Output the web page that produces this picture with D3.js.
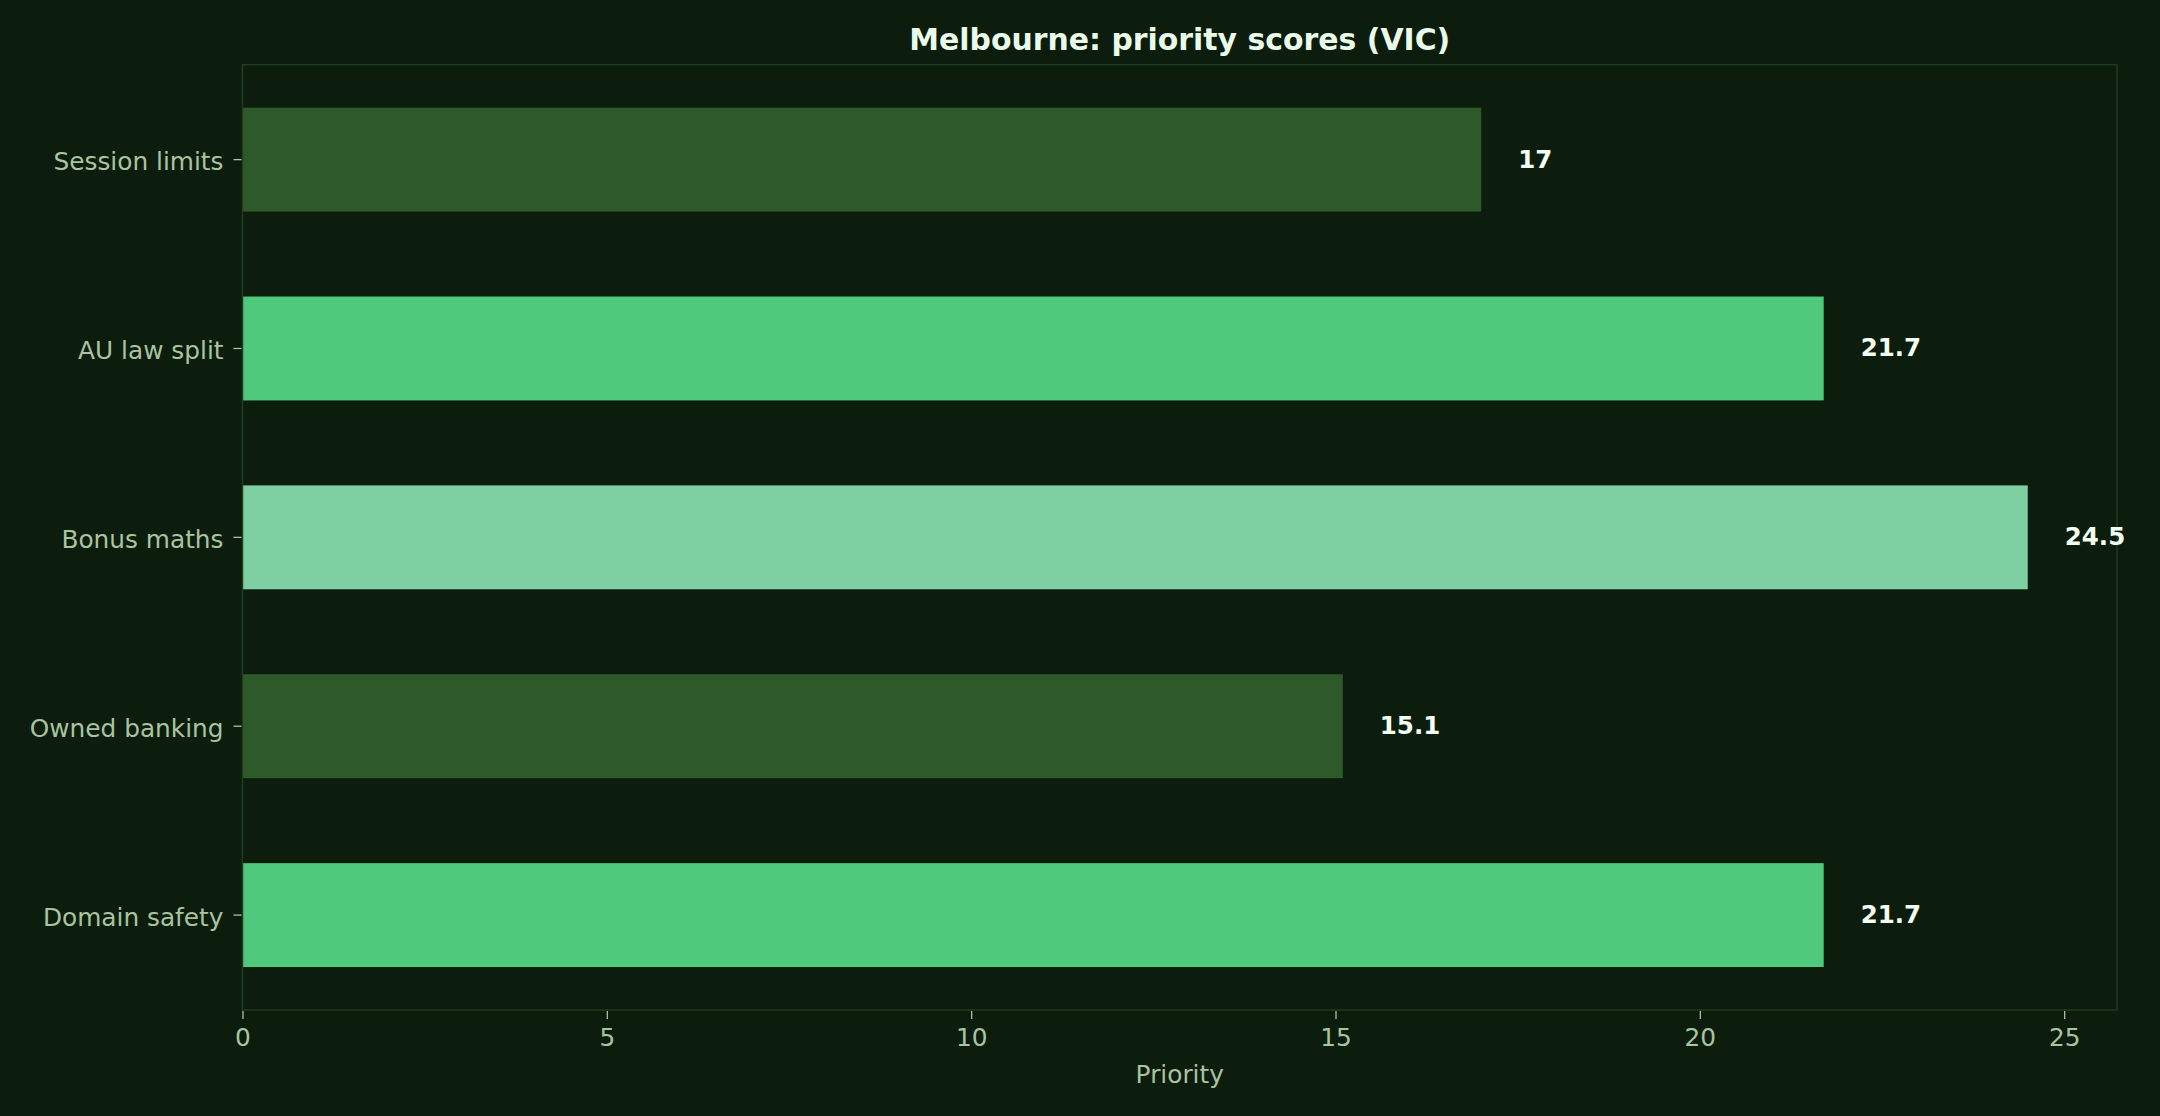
<!DOCTYPE html>
<html>
<head>
<meta charset="utf-8">
<script src="https://cdn.jsdelivr.net/npm/d3@7"></script>
<style>
  html, body { margin: 0; padding: 0; background: #0c1d0d; }
  svg { display: block; }
  text { font-family: "DejaVu Sans", sans-serif; }
</style>
</head>
<body>
<svg id="chart" width="2160" height="1116"></svg>
<script>
const categories = ["Session limits", "AU law split", "Bonus maths", "Owned banking", "Domain safety"];
const values = [17, 21.7, 24.5, 15.1, 21.7];
const barColors = ["#2e5a2a", "#4fc97b", "#7ed0a2", "#2e5a2a", "#4fc97b"];
const xTicks = [0, 5, 10, 15, 20, 25];
const title = "Melbourne: priority scores (VIC)";
const xLabel = "Priority";

(function () {
const W = 2160, H = 1116;
const pl = 242.5, pr = 2117, pt = 64.7, pb = 1010;

const svg = d3.select("#chart");
svg.append("rect").attr("width", W).attr("height", H).attr("fill", "#0c1d0d");

const xMax = d3.max(values) * 1.05;
const x = d3.scaleLinear().domain([0, xMax]).range([pl, pr]);
const y = d3.scaleBand().domain(categories).range([pt, pb])
  .paddingInner(0.45).paddingOuter(0.2275);

// bars
svg.append("g").selectAll("rect").data(categories).join("rect")
  .attr("x", x(0))
  .attr("y", d => y(d))
  .attr("width", (d, i) => x(values[i]) - x(0))
  .attr("height", y.bandwidth())
  .attr("fill", (d, i) => barColors[i]);

// spines
svg.append("rect")
  .attr("x", pl).attr("y", pt)
  .attr("width", pr - pl).attr("height", pb - pt)
  .attr("fill", "none").attr("stroke", "#1f3d1f").attr("stroke-width", 1.5);

// value labels
svg.append("g").selectAll("text").data(categories).join("text")
  .attr("x", (d, i) => x(values[i]) + 37)
  .attr("y", d => y(d) + y.bandwidth() / 2 + 8)
  .attr("fill", "#f2fff2")
  .attr("font-weight", "bold")
  .attr("font-size", "24.5px")
  .text((d, i) => d3.format("~g")(values[i]));

const tickColor = "#a8c4a0";

// x axis
const gx = svg.append("g").attr("transform", `translate(0,${pb + 1})`)
  .call(d3.axisBottom(x).tickValues(xTicks).tickSize(8).tickPadding(9).tickFormat(d3.format("d")));
gx.select(".domain").remove();
gx.selectAll(".tick line").attr("stroke", tickColor).attr("stroke-width", 1.3);
gx.selectAll(".tick text").attr("fill", tickColor).attr("font-size", "24.8px")
  .attr("font-family", "DejaVu Sans, sans-serif");

// y axis
const gy = svg.append("g").attr("transform", `translate(${pl - 1},0)`)
  .call(d3.axisLeft(y).tickSize(8).tickPadding(10));
gy.select(".domain").remove();
gy.selectAll(".tick line").attr("stroke", tickColor).attr("stroke-width", 1.3);
gy.selectAll(".tick text").attr("fill", tickColor).attr("font-size", "24.8px")
  .attr("font-family", "DejaVu Sans, sans-serif").attr("dy", "0.42em");

// axis label
svg.append("text")
  .attr("x", (pl + pr) / 2).attr("y", 1082.5)
  .attr("text-anchor", "middle")
  .attr("fill", tickColor).attr("font-size", "24.8px")
  .text(xLabel);

// title
svg.append("text")
  .attr("x", (pl + pr) / 2).attr("y", 49.5)
  .attr("text-anchor", "middle")
  .attr("fill", "#eafbea").attr("font-weight", "bold").attr("font-size", "29.9px")
  .text(title);
})();
</script>
</body>
</html>
